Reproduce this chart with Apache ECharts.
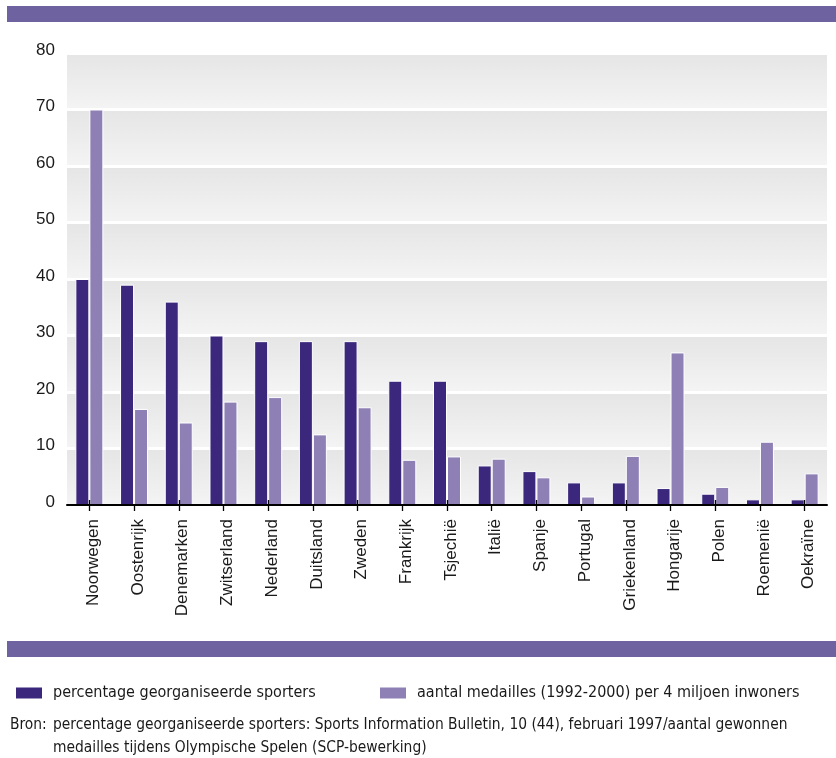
<!DOCTYPE html>
<html>
<head>
<meta charset="utf-8">
<script src="https://cdn.jsdelivr.net/npm/echarts@6/dist/echarts.min.js"></script>
<style>
html,body{margin:0;padding:0;background:#fff;}
#chart{width:836px;height:758px;}
</style>
</head>
<body>
<div id="chart"></div>
<script>
var categories = ['Noorwegen','Oostenrijk','Denemarken','Zwitserland','Nederland','Duitsland','Zweden','Frankrijk','Tsjechië','Italië','Spanje','Portugal','Griekenland','Hongarije','Polen','Roemenië','Oekraïne'];
var sportersPct = [40, 39, 36, 30, 29, 29, 29, 22, 22, 7, 6, 4, 4, 3, 2, 1, 1];
var medailles = [70, 17, 14.6, 18.3, 19.1, 12.5, 17.3, 8, 8.6, 8.2, 4.9, 1.5, 8.7, 27, 3.2, 11.2, 5.6];
var seriesNames = ['percentage georganiseerde sporters', 'aantal medailles (1992-2000) per 4 miljoen inwoners'];
var sourceLabel = 'Bron:';
var sourceLines = ['percentage georganiseerde sporters: Sports Information Bulletin, 10 (44), februari 1997/aantal gewonnen', 'medailles tijdens Olympische Spelen (SCP-bewerking)'];

var DARK = '#3b287c';
var LIGHT = '#8e80b5';
var BANNER = '#6f62a0';
var NARROW = '"DejaVu Sans Condensed", "Liberation Sans", sans-serif';
var SANS = '"Liberation Sans", Arial, sans-serif';

var chart = echarts.init(document.getElementById('chart'), null, {renderer: 'canvas'});

var bandGradient = {
  type: 'linear', x: 0, y: 0, x2: 0, y2: 1,
  colorStops: [{offset: 0, color: '#e5e5e5'}, {offset: 1, color: '#f4f4f4'}]
};

function legendCfg(left, name) {
  return {
    left: left, top: 680, icon: 'rect', itemWidth: 26, itemHeight: 11,
    itemStyle: {borderWidth: 0},
    textStyle: {fontFamily: NARROW, fontSize: 16, color: '#1a1a1a', padding: [0, 0, 0, 6]},
    selectedMode: false,
    data: [name]
  };
}

var option = {
  animation: false,
  backgroundColor: '#ffffff',
  grid: {left: 67, right: 9, top: 53, bottom: 253, containLabel: false},
  legend: [legendCfg(11, seriesNames[0]), legendCfg(375, seriesNames[1])],
  xAxis: [
    {
      type: 'category', data: categories, position: 'bottom', z: 5,
      axisLine: {show: true, lineStyle: {color: '#000', width: 2}},
      axisTick: {show: true, alignWithLabel: true, length: 6, lineStyle: {color: '#000', width: 1.3}},
      axisLabel: {rotate: 90, margin: 14, fontFamily: SANS, fontSize: 17, color: '#1a1a1a', interval: 0, verticalAlign: 'top', lineHeight: 8},
      splitLine: {show: false}
    },
    {
      type: 'category', data: categories, position: 'bottom', z: 5,
      axisLine: {show: false},
      axisTick: {show: true, inside: true, alignWithLabel: true, length: 5, lineStyle: {color: '#000', width: 1.3}},
      axisLabel: {show: false},
      splitLine: {show: false}
    }
  ],
  yAxis: {
    type: 'value', min: 0, max: 80, interval: 10,
    axisLine: {show: false},
    axisTick: {show: false},
    axisLabel: {margin: 12, fontFamily: SANS, fontSize: 17, color: '#1a1a1a', verticalAlign: 'bottom', lineHeight: 6},
    splitLine: {show: true, lineStyle: {color: '#ffffff', width: 3}},
    splitArea: {show: true, areaStyle: {color: [bandGradient]}}
  },
  series: [
    {
      name: seriesNames[0], type: 'bar', xAxisIndex: 0, data: sportersPct,
      barWidth: 14, barGap: '0%',
      itemStyle: {color: DARK, borderColor: '#ffffff', borderWidth: 1}
    },
    {
      name: seriesNames[1], type: 'bar', xAxisIndex: 0, data: medailles,
      barWidth: 14, barGap: '0%',
      itemStyle: {color: LIGHT, borderColor: '#ffffff', borderWidth: 1}
    }
  ],
  graphic: [
    {type: 'rect', left: 7, top: 6, shape: {width: 829, height: 16}, style: {fill: BANNER}, silent: true},
    {type: 'rect', left: 7, top: 641, shape: {width: 829, height: 16}, style: {fill: BANNER}, silent: true},
    {type: 'text', x: 10, y: 725, style: {text: sourceLabel, fontFamily: NARROW, fontSize: 15.4, fill: '#1a1a1a', verticalAlign: 'middle'}},
    {type: 'text', x: 53, y: 725, style: {text: sourceLines[0], fontFamily: NARROW, fontSize: 15.4, fill: '#1a1a1a', verticalAlign: 'middle'}},
    {type: 'text', x: 53, y: 748, style: {text: sourceLines[1], fontFamily: NARROW, fontSize: 15.4, fill: '#1a1a1a', verticalAlign: 'middle'}}
  ]
};
chart.setOption(option);
</script>
</body>
</html>
